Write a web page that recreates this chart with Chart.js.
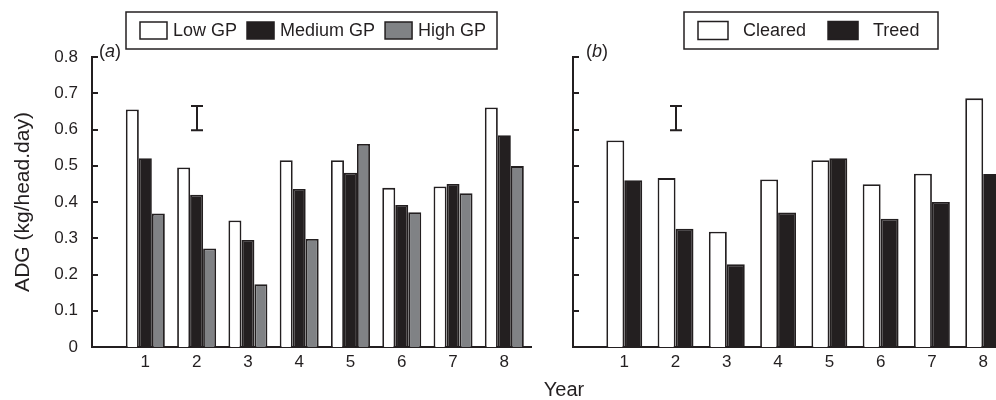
<!DOCTYPE html>
<html>
<head>
<meta charset="utf-8">
<script src="https://cdn.jsdelivr.net/npm/chart.js@4.4.1/dist/chart.umd.min.js"></script>
<style>
  body { margin: 0; background: #fff; width: 996px; height: 400px; overflow: hidden; position: relative;
         font-family: "Liberation Sans", Arial, sans-serif; color: #231f20; }
  canvas { position: absolute; top: 0; }
  #chartA { left: 0; }
  #chartB { left: 560px; }
  .panel { position: absolute; font-size: 18px; line-height: 20px; }
  #year { position: absolute; left: 564px; top: 377px; transform: translateX(-50%); font-size: 20px; line-height: 24px; }
</style>
</head>
<body>
<canvas id="chartA" width="560" height="400"></canvas>
<canvas id="chartB" width="436" height="400"></canvas>
<div class="panel" style="left:99px; top:41px;">(<i>a</i>)</div>
<div class="panel" style="left:586px; top:41px;">(<i>b</i>)</div>
<div id="year">Year</div>

<script>
// --- datos ---
const years = [1, 2, 3, 4, 5, 6, 7, 8];

// panel (a): nivel de GP
const lowGP    = [0.655, 0.495, 0.349, 0.515, 0.515, 0.439, 0.443, 0.661];
const mediumGP = [0.521, 0.420, 0.295, 0.436, 0.481, 0.392, 0.450, 0.584];
const highGP   = [0.368, 0.272, 0.173, 0.298, 0.560, 0.372, 0.424, 0.499];

// panel (b): desmontado vs arbolado
const cleared = [0.570, 0.466, 0.318, 0.462, 0.515, 0.449, 0.478, 0.686];
const treed   = [0.460, 0.326, 0.228, 0.371, 0.521, 0.354, 0.400, 0.477];

// barra de LSD dibujada en el año 2 (abajo, arriba)
const lsdYear = 2;
const lsdA = [0.598, 0.665];
const lsdB = [0.598, 0.665];

const yTicks = [0, 0.1, 0.2, 0.3, 0.4, 0.5, 0.6, 0.7, 0.8];

const ink = '#231f20';
const grey = '#808285';
const font = '"Liberation Sans", Arial, sans-serif';

Chart.defaults.font.family = font;
Chart.defaults.color = ink;

function points(values) {
    return years.map((yr, i) => ({ x: yr, y: values[i] }));
}

// marcas del eje Y hacia dentro
const innerTicks = {
    id: 'innerTicks',
    afterDraw(chart) {
        const y = chart.scales.y;
        const left = chart.chartArea.left;
        const ctx = chart.ctx;
        ctx.save();
        ctx.strokeStyle = ink;
        ctx.lineWidth = 2;
        y.ticks.forEach(t => {
            if (t.value === 0) return;
            const py = Math.round(y.getPixelForValue(t.value));
            ctx.beginPath();
            ctx.moveTo(left, py);
            ctx.lineTo(left + 6, py);
            ctx.stroke();
        });
        ctx.restore();
    }
};

// la "I" de la diferencia mínima significativa
const lsdBar = {
    id: 'lsdBar',
    afterDatasetsDraw(chart, args, opts) {
        const { x, y } = chart.scales;
        const px = Math.round(x.getPixelForValue(opts.year));
        const bot = y.getPixelForValue(opts.range[0]);
        const top = y.getPixelForValue(opts.range[1]);
        const ctx = chart.ctx;
        ctx.save();
        ctx.strokeStyle = ink;
        ctx.lineWidth = 2;
        ctx.beginPath();
        ctx.moveTo(px, top); ctx.lineTo(px, bot);
        ctx.moveTo(px - 6, top); ctx.lineTo(px + 6, top);
        ctx.moveTo(px - 6, bot); ctx.lineTo(px + 6, bot);
        ctx.stroke();
        ctx.restore();
    }
};

// leyenda con marco, como en la figura original
const frameLegend = {
    id: 'frameLegend',
    afterDraw(chart, args, o) {
        const ctx = chart.ctx;
        ctx.save();
        ctx.lineWidth = 1.5;
        ctx.strokeStyle = ink;
        ctx.strokeRect(o.left, o.top, o.width, o.height);
        ctx.font = '18px ' + font;
        ctx.textBaseline = 'middle';
        const mid = o.top + o.height / 2;
        let x = o.start;
        chart.data.datasets.forEach(ds => {
            ctx.fillStyle = ds.backgroundColor;
            ctx.fillRect(x, mid - o.boxH / 2, o.boxW, o.boxH);
            ctx.strokeRect(x, mid - o.boxH / 2, o.boxW, o.boxH);
            x += o.boxW + o.gap;
            ctx.fillStyle = ink;
            ctx.fillText(ds.label, x, mid + 1);
            x += ctx.measureText(ds.label).width + o.itemGap;
        });
        ctx.restore();
    }
};

function barSet(label, values, color) {
    return {
        label: label,
        data: points(values),
        backgroundColor: color,
        borderColor: ink,
        borderWidth: 1.8,
        barPercentage: 1
    };
}

function scalesFor(cfg) {
    return {
        x: {
            type: 'linear',
            min: cfg.xMin,
            max: cfg.xMax,
            offset: false,
            grid: { display: false, drawTicks: false, offset: false },
            border: { display: true, color: ink, width: 2 },
            afterBuildTicks: s => { s.ticks = years.map(v => ({ value: v })); },
            afterFit: s => { s.height = 53; },
            ticks: { font: { size: 17 }, padding: 5, maxRotation: 0, callback: v => String(v) }
        },
        y: {
            min: 0,
            max: 0.8,
            grid: { display: false, drawTicks: false },
            border: { display: true, color: ink, width: 2 },
            afterBuildTicks: s => { s.ticks = yTicks.map(v => ({ value: v })); },
            afterFit: s => { s.width = cfg.yWidth; },
            ticks: {
                display: cfg.showLabels,
                font: { size: 17 },
                padding: 14,
                callback: v => (v === 0 ? '0' : v.toFixed(1))
            },
            title: {
                display: cfg.showLabels,
                text: 'ADG (kg/head.day)',
                font: { size: 21 },
                padding: { top: 11, bottom: 0 }
            }
        }
    };
}

new Chart(document.getElementById('chartA'), {
    type: 'bar',
    data: {
        datasets: [
            barSet('Low GP', lowGP, '#ffffff'),
            barSet('Medium GP', mediumGP, ink),
            barSet('High GP', highGP, grey)
        ]
    },
    options: {
        responsive: false,
        animation: false,
        devicePixelRatio: 1,
        categoryPercentage: 0.76,
        layout: { padding: { left: 0, right: 29, top: 57, bottom: 0 } },
        scales: scalesFor({ xMin: -0.04, xMax: 8.52, yWidth: 92, showLabels: true }),
        plugins: {
            legend: { display: false },
            tooltip: { enabled: false },
            lsdBar: { year: lsdYear, range: lsdA },
            frameLegend: { left: 126, top: 12, width: 371, height: 37, start: 140, boxW: 27, boxH: 17, gap: 6, itemGap: 10 }
        }
    },
    plugins: [innerTicks, lsdBar, frameLegend]
});

new Chart(document.getElementById('chartB'), {
    type: 'bar',
    data: {
        datasets: [
            barSet('Cleared', cleared, '#ffffff'),
            barSet('Treed', treed, ink)
        ]
    },
    options: {
        responsive: false,
        animation: false,
        devicePixelRatio: 1,
        categoryPercentage: 0.70,
        layout: { padding: { left: 0, right: 0, top: 57, bottom: 0 } },
        scales: scalesFor({ xMin: 0, xMax: 8.25, yWidth: 13, showLabels: false }),
        plugins: {
            legend: { display: false },
            tooltip: { enabled: false },
            lsdBar: { year: lsdYear, range: lsdB },
            frameLegend: { left: 124, top: 12, width: 254, height: 37, start: 138, boxW: 30, boxH: 18, gap: 15, itemGap: 22 }
        }
    },
    plugins: [innerTicks, lsdBar, frameLegend]
});
</script>
</body>
</html>
